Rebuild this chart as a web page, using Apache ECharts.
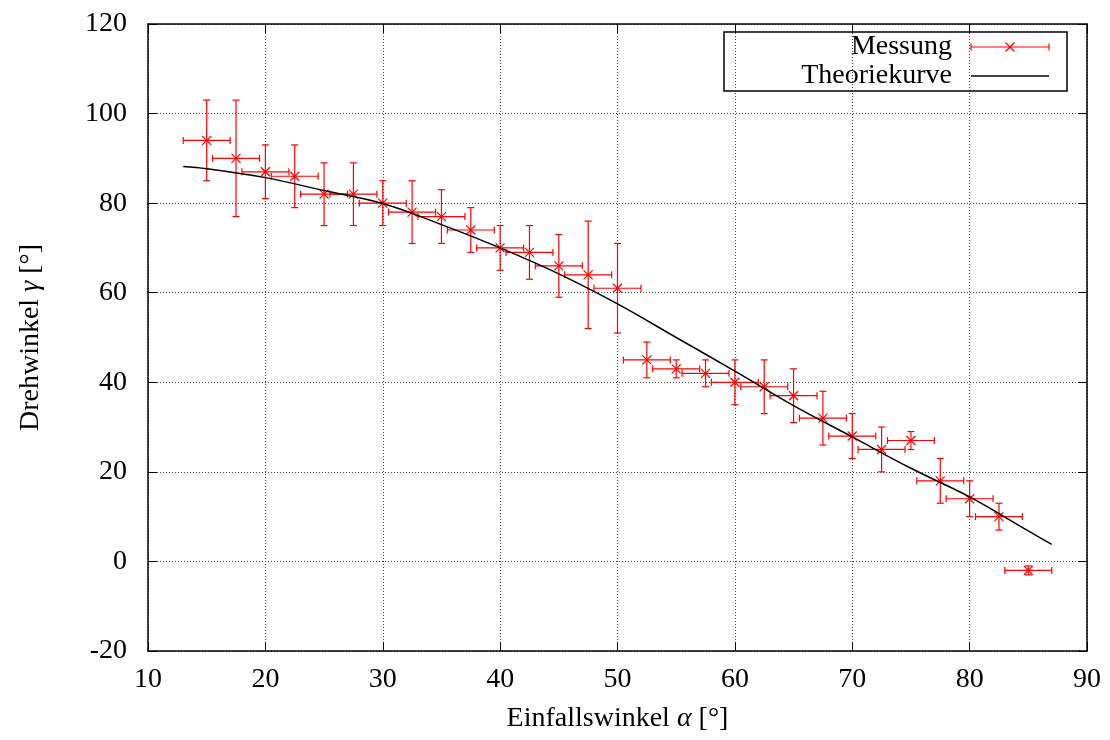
<!DOCTYPE html>
<html>
<head>
<meta charset="utf-8">
<script src="https://cdn.jsdelivr.net/npm/echarts@6/dist/echarts.min.js"></script>
<style>
  html, body { margin: 0; padding: 0; background: #fff; }
  #chart { width: 1110px; height: 740px; }
</style>
</head>
<body>
<div id="chart"></div>
<script>
// measured values
var alpha = [15, 17.5, 20, 22.5, 25, 27.5, 30, 32.5, 35, 37.5, 40, 42.5, 45, 47.5, 50,
             52.5, 55, 57.5, 60, 62.5, 65, 67.5, 70, 72.5, 75, 77.5, 80, 82.5, 85];
var gamma = [94, 90, 87, 86, 82, 82, 80, 78, 77, 74, 70, 69, 66, 64, 61,
             45, 43, 42, 40, 39, 37, 32, 28, 25, 27, 18, 14, 10, -2];
var alphaErr = [2, 2, 2, 2, 2, 2, 2, 2, 2, 2, 2, 2, 2, 2, 2,
                2, 2, 2, 2, 2, 2, 2, 2, 2, 2, 2, 2, 2, 2];
var gammaErr = [9, 13, 6, 7, 7, 7, 5, 7, 6, 5, 5, 6, 7, 12, 10,
                4, 2, 3, 5, 6, 6, 6, 5, 5, 2, 5, 4, 3, 1];

// theory curve
var theoX = [13, 15, 20, 25, 30, 35, 40, 45, 50, 55, 60, 65, 70, 75, 80, 85, 87];
var theoY = [88.2, 87.7, 85.7, 82.8, 79.9, 75.2, 70.0, 64.2, 57.5, 50.0, 42.5, 34.8, 27.8, 20.8, 14.4, 6.8, 3.8];

var xTicks = [10, 20, 30, 40, 50, 60, 70, 80, 90];
var yTicks = [-20, 0, 20, 40, 60, 80, 100, 120];

var FONT = '"Liberation Serif", "DejaVu Serif", serif';
var FS = 28;
var RED = '#ff0000';

var errData = alpha.map(function (a, i) { return [a, gamma[i], alphaErr[i], gammaErr[i]]; });
var theoData = theoX.map(function (x, i) { return [x, theoY[i]]; });

function renderErr(params, api) {
  var x = api.value(0), y = api.value(1), dx = api.value(2), dy = api.value(3);
  var c = api.coord([x, y]);
  var l = api.coord([x - dx, y]), r = api.coord([x + dx, y]);
  var t = api.coord([x, y + dy]), b = api.coord([x, y - dy]);
  var cap = 3.5, m = 4.5;
  var st = { stroke: RED, lineWidth: 1.2, fill: null };
  function ln(x1, y1, x2, y2) {
    return { type: 'line', shape: { x1: x1, y1: y1, x2: x2, y2: y2 }, style: st };
  }
  return {
    type: 'group',
    children: [
      ln(l[0], c[1], r[0], c[1]),
      ln(l[0], c[1] - cap, l[0], c[1] + cap),
      ln(r[0], c[1] - cap, r[0], c[1] + cap),
      ln(c[0], t[1], c[0], b[1]),
      ln(c[0] - cap, t[1], c[0] + cap, t[1]),
      ln(c[0] - cap, b[1], c[0] + cap, b[1]),
      ln(c[0] - m, c[1] - m, c[0] + m, c[1] + m),
      ln(c[0] - m, c[1] + m, c[0] + m, c[1] - m)
    ]
  };
}

var chart = echarts.init(document.getElementById('chart'), null, { renderer: 'canvas' });

var gridStyle = { show: true, lineStyle: { color: '#444', width: 1, type: [1, 2] } };
var tickStyle = { show: true, inside: true, length: 9, lineStyle: { color: '#000', width: 1 } };
var axisLineStyle = { show: true, onZero: false, lineStyle: { color: '#000', width: 1.5 } };
var nameRich = {
  n: { fontFamily: FONT, fontSize: FS, color: '#000' },
  g: { fontFamily: FONT, fontSize: FS, color: '#000', fontStyle: 'italic' }
};

var option = {
  animation: false,
  backgroundColor: '#fff',
  grid: { left: 148, right: 23, top: 24, bottom: 89 },
  xAxis: [{
    type: 'value', min: xTicks[0], max: xTicks[xTicks.length - 1], interval: 10,
    position: 'bottom',
    axisLine: axisLineStyle, axisTick: tickStyle, splitLine: gridStyle,
    axisLabel: { color: '#000', fontFamily: FONT, fontSize: FS, margin: 15 },
    name: '{n|Einfallswinkel }{g|α}{n| [°]}',
    nameLocation: 'middle', nameGap: 54,
    nameTextStyle: { rich: nameRich }
  }, {
    type: 'value', min: xTicks[0], max: xTicks[xTicks.length - 1], interval: 10,
    position: 'top',
    axisLine: axisLineStyle, axisTick: tickStyle, splitLine: { show: false },
    axisLabel: { show: false }
  }],
  yAxis: [{
    type: 'value', min: yTicks[0], max: yTicks[yTicks.length - 1], interval: 20,
    position: 'left',
    axisLine: axisLineStyle, axisTick: tickStyle, splitLine: gridStyle,
    axisLabel: { color: '#000', fontFamily: FONT, fontSize: FS, margin: 21 },
    name: '{n|Drehwinkel }{g|γ}{n| [°]}',
    nameLocation: 'middle', nameGap: 103,
    nameTextStyle: { rich: nameRich }
  }, {
    type: 'value', min: yTicks[0], max: yTicks[yTicks.length - 1], interval: 20,
    position: 'right',
    axisLine: axisLineStyle, axisTick: tickStyle, splitLine: { show: false },
    axisLabel: { show: false }
  }],
  series: [{
    name: 'Messung',
    type: 'custom',
    renderItem: renderErr,
    data: errData,
    encode: { x: 0, y: 1 },
    z: 3
  }, {
    name: 'Theoriekurve',
    type: 'line',
    data: theoData,
    smooth: 0.4,
    showSymbol: false,
    lineStyle: { color: '#000', width: 1.5 },
    z: 4
  }],
  graphic: [{
    type: 'group', z: 100,
    children: [
      { type: 'rect', shape: { x: 724, y: 32, width: 343, height: 59 },
        style: { fill: '#fff', stroke: '#000', lineWidth: 1.5 } },
      { type: 'text', x: 952, y: 47, style: { text: 'Messung', font: FS + 'px ' + FONT, fill: '#000', align: 'right', verticalAlign: 'middle' } },
      { type: 'text', x: 952, y: 76, style: { text: 'Theoriekurve', font: FS + 'px ' + FONT, fill: '#000', align: 'right', verticalAlign: 'middle' } },
      { type: 'line', shape: { x1: 971, y1: 47, x2: 1049, y2: 47 }, style: { stroke: RED, lineWidth: 1.2 } },
      { type: 'line', shape: { x1: 971, y1: 43.5, x2: 971, y2: 50.5 }, style: { stroke: RED, lineWidth: 1.2 } },
      { type: 'line', shape: { x1: 1049, y1: 43.5, x2: 1049, y2: 50.5 }, style: { stroke: RED, lineWidth: 1.2 } },
      { type: 'line', shape: { x1: 1005.5, y1: 42.5, x2: 1014.5, y2: 51.5 }, style: { stroke: RED, lineWidth: 1.2 } },
      { type: 'line', shape: { x1: 1005.5, y1: 51.5, x2: 1014.5, y2: 42.5 }, style: { stroke: RED, lineWidth: 1.2 } },
      { type: 'line', shape: { x1: 971, y1: 76, x2: 1049, y2: 76 }, style: { stroke: '#000', lineWidth: 1.5 } }
    ]
  }]
};

chart.setOption(option);
</script>
</body>
</html>
